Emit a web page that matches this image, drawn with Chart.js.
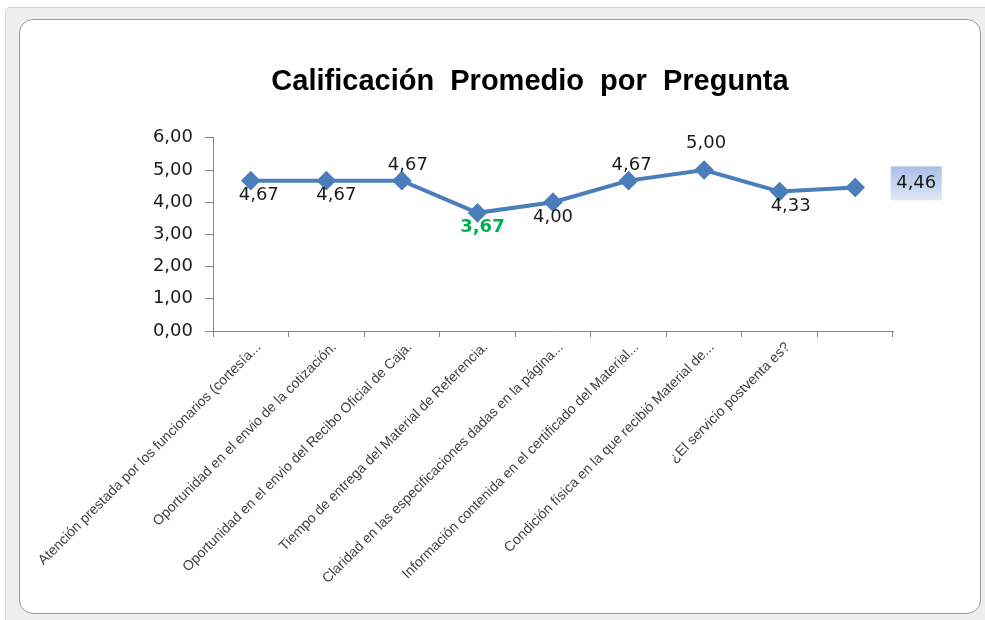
<!DOCTYPE html>
<html>
<head>
<meta charset="utf-8">
<script src="https://cdn.jsdelivr.net/npm/chart.js@4/dist/chart.umd.min.js"></script>
<style>
    html, body { margin: 0; padding: 0; background: #ffffff; overflow: hidden; }
    .frame {
        position: absolute; left: 5px; top: 7px; width: 990px; height: 620px;
        background: #efefef; border: 1px solid #d6d6d6; border-radius: 5px;
    }
    .inner {
        position: absolute; left: 19px; top: 19px; width: 960px; height: 593px;
        background: #ffffff; border: 1px solid #9a9a9a; border-radius: 14px;
    }
    #chart { position: absolute; left: 0; top: 0; }
</style>
</head>
<body>
<div class="frame"></div>
<div class="inner"></div>
<canvas id="chart" width="985" height="620"></canvas>
<script>
/* ==========================================
        Data
========================================== */

const categories = [
    "Atención prestada por los funcionarios (cortesía...",
    "Oportunidad en el envio de la cotización.",
    "Oportunidad en el envio del Recibo Oficial de Caja.",
    "Tiempo de entrega del Material de Referencia.",
    "Claridad en las especificaciones dadas en la página...",
    "Información contenida en el certificado del Material...",
    "Condición física en la que recibió Material de...",
    "¿El servicio postventa es?",
    ""
];

const scores = [4.67, 4.67, 4.67, 3.67, 4.00, 4.67, 5.00, 4.33, 4.46];

const yTicks = [0, 1, 2, 3, 4, 5, 6];

/* label placement, Excel style */
const labelPos = ["below", "below", "above", "below", "below", "above", "above", "below", "right"];
const labelShift = [8, 10, 6, 5, 0, 3, 2, 11, 0];

const fmt = v => v.toFixed(2).replace(".", ",");

/* ==========================================
        Data labels plugin
========================================== */

const dataLabels = {
    id: "dataLabels",
    afterDatasetsDraw(chart) {
        const ctx = chart.ctx;
        const meta = chart.getDatasetMeta(0);
        ctx.save();
        ctx.textAlign = "center";
        ctx.textBaseline = "middle";
        meta.data.forEach((pt, i) => {
            const text = fmt(scores[i]);
            let x = pt.x + labelShift[i];
            let y = pt.y;
            if (labelPos[i] === "below") y += 15;
            if (labelPos[i] === "above") y -= (i === 6 ? 27 : 15);
            if (labelPos[i] === "right") {
                x = pt.x + 61;
                y -= 4;
                const w = 51, h = 34;
                const g = ctx.createLinearGradient(0, y - h / 2, 0, y + h / 2);
                g.addColorStop(0, "#a9c0e7");
                g.addColorStop(1, "#dfe8f6");
                ctx.fillStyle = g;
                ctx.fillRect(x - w / 2, y - h / 2, w, h);
            }
            if (i === 3) {
                ctx.font = "bold 18px 'DejaVu Sans'";
                ctx.fillStyle = "#00b050";
            } else {
                ctx.font = "18px 'DejaVu Sans'";
                ctx.fillStyle = "#1a1a1a";
            }
            ctx.fillText(text, x, y);
        });
        ctx.restore();
    }
};

/* ==========================================
        Chart
========================================== */

new Chart(document.getElementById("chart"), {
    type: "line",
    data: {
        labels: categories,
        datasets: [{
            data: scores,
            borderColor: "#4a7ebb",
            backgroundColor: "#4a7ebb",
            borderWidth: 4,
            pointStyle: "rectRot",
            pointRadius: 7,
            pointHoverRadius: 7,
            tension: 0,
            clip: false
        }]
    },
    options: {
        responsive: false,
        animation: false,
        devicePixelRatio: 1,
        layout: {
            padding: { left: 167, right: 92, top: 0, bottom: 0 }
        },
        plugins: {
            legend: { display: false },
            tooltip: { enabled: false },
            title: {
                display: true,
                text: "Calificación  Promedio  por  Pregunta",
                color: "#000000",
                font: { family: "'Liberation Sans'", size: 29, weight: "bold", lineHeight: 1.2 },
                padding: { top: 65, bottom: 38 }
            }
        },
        scales: {
            x: {
                offset: true,
                grid: {
                    offset: true,
                    drawOnChartArea: false,
                    color: "#868686",
                    tickLength: 6
                },
                border: { color: "#868686", width: 1 },
                ticks: {
                    autoSkip: false,
                    minRotation: 45,
                    maxRotation: 45,
                    labelOffset: 8,
                    padding: 2,
                    color: "#404040",
                    font: { family: "'Liberation Sans'", size: 14 }
                },
                afterFit(scale) { scale.height = 289; }
            },
            y: {
                min: 0,
                max: 6,
                afterBuildTicks(scale) {
                    scale.ticks = yTicks.map(v => ({ value: v }));
                },
                grid: {
                    drawOnChartArea: false,
                    color: "#868686",
                    tickLength: 8
                },
                border: { color: "#868686", width: 1 },
                ticks: {
                    padding: 12,
                    color: "#1a1a1a",
                    font: { family: "'DejaVu Sans'", size: 18 },
                    callback: v => fmt(v)
                },
                afterFit(scale) {
                    scale.width = 46;
                    // labels hang out to the left of the narrow axis box
                    scale._computeLabelArea = () => undefined;
                }
            }
        }
    },
    plugins: [dataLabels]
});
</script>
</body>
</html>
